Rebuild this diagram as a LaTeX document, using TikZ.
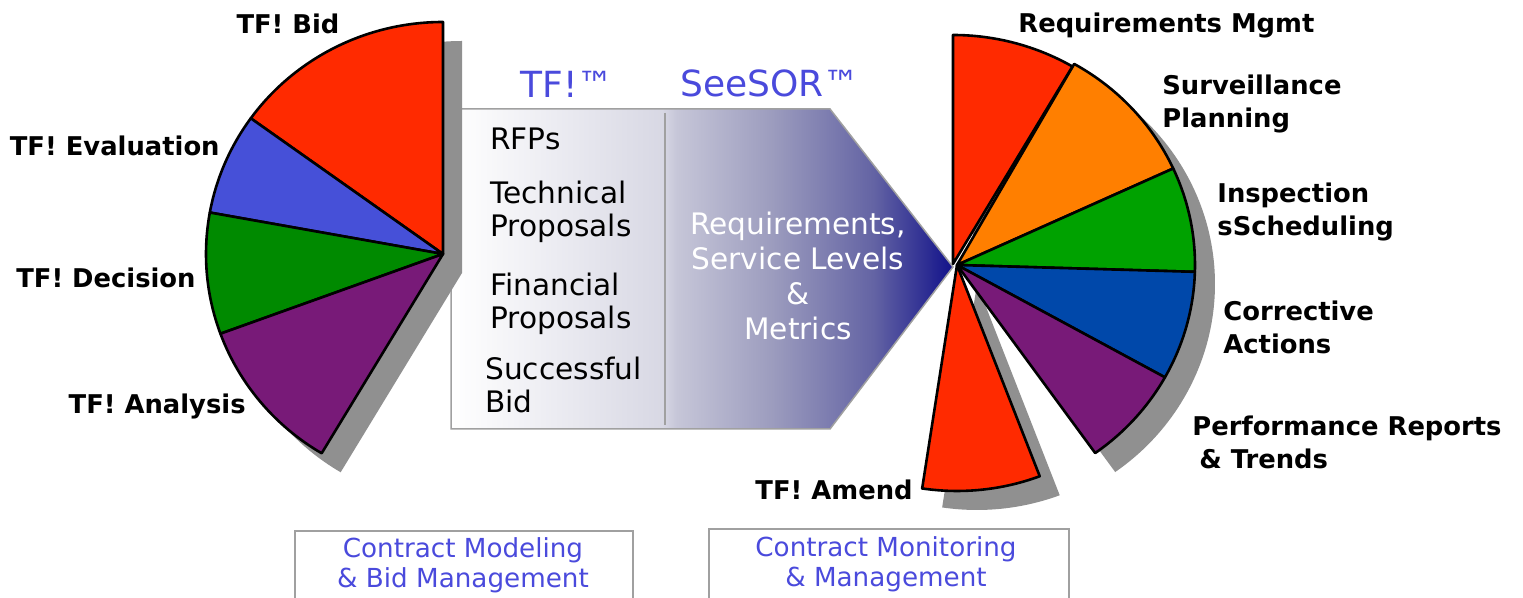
\documentclass[tikz,border=0pt]{standalone}
\usepackage{fontspec}
\setmainfont{DejaVu Sans}
\definecolor{redS}{HTML}{FF2A00}
\definecolor{blueE}{HTML}{4650D8}
\definecolor{greenL}{HTML}{008A00}
\definecolor{purpleS}{HTML}{781A78}
\definecolor{orangeS}{HTML}{FF7F00}
\definecolor{greenR}{HTML}{00A200}
\definecolor{blueR}{HTML}{0048AA}
\definecolor{shadowgray}{HTML}{909090}
\definecolor{titleblue}{HTML}{4A4ADC}
\definecolor{boxgray}{HTML}{A0A0A0}
\definecolor{sha}{HTML}{D8D8E4}
\definecolor{shb}{HTML}{C6C6D8}
\definecolor{shc}{HTML}{9C9CBE}
\definecolor{shd}{HTML}{6464A4}
\definecolor{she}{HTML}{12128A}
\pgfdeclarehorizontalshading{arrowshade}{100bp}{color(0bp)=(white); color(25bp)=(white); color(46bp)=(sha); color(47.5bp)=(shb); color(57bp)=(shc); color(67bp)=(shd); color(75bp)=(she); color(100bp)=(she)}
\tikzset{
  pieslice/.style n args={6}{insert path={(#1,#2) -- +(#3:#5 and #6) arc[start angle=#3, end angle=#4, x radius=#5, y radius=#6] -- cycle}},
  slice/.style={draw=black, line width=1.3pt, line join=round},
  lab/.style={font=\fontsize{12.9}{16.5}\selectfont\bfseries, inner sep=0pt, align=left},
  ttl/.style={font=\fontsize{18}{22}\selectfont, text=titleblue, inner sep=0pt},
  item/.style={font=\fontsize{14.8}{16.75}\selectfont, inner sep=0pt, align=left},
  wtxt/.style={font=\fontsize{14.8}{17.5}\selectfont, text=white, inner sep=0pt, align=center},
  btxt/.style={font=\fontsize{13.1}{15.2}\selectfont, text=titleblue, inner sep=0pt, align=center},
  framebox/.style={draw=boxgray, line width=0.8pt}
}
\begin{document}
\begin{tikzpicture}[x=0.5pt,y=0.5pt]
\useasboundingbox (0,0) rectangle (1523,-598);
\clip (0,0) rectangle (1523,-598);
% central arrow
\shadedraw[shading=arrowshade, draw=boxgray, line width=0.75pt] (451,-109) -- (830,-109) -- (953,-267) -- (830,-429) -- (451,-429) -- cycle;
\draw[boxgray, line width=0.75pt] (665,-113) -- (665,-425);
% left pie
\fill[shadowgray, pieslice={462}{-273}{90}{239.2}{237}{232}];
\path[slice, fill=redS, pieslice={443}{-254}{90}{144.2}{237}{232}];
\path[slice, fill=blueE, pieslice={443}{-254}{144.2}{169.7}{237}{232}];
\path[slice, fill=greenL, pieslice={443}{-254}{169.7}{200.1}{237}{232}];
\path[slice, fill=purpleS, pieslice={443}{-254}{200.1}{239.2}{237}{232}];
% right pie shadow
\begin{scope}[shift={(20,-19)}]
\fill[shadowgray, pieslice={953}{-264}{59.6}{90}{236}{229}];
\fill[shadowgray, pieslice={957}{-265}{-54.5}{60.5}{238}{231}];
\fill[shadowgray, pieslice={957}{-265}{-98.6}{-69.2}{233}{226}];
\end{scope}
% right pie
\path[slice, fill=orangeS, pieslice={957}{-265}{24.7}{60.5}{238}{231}];
\path[slice, fill=redS, pieslice={953}{-264}{59.6}{90}{236}{229}];
\path[slice, fill=greenR, pieslice={957}{-265}{-1.7}{24.7}{238}{231}];
\path[slice, fill=blueR, pieslice={957}{-265}{-29.1}{-1.7}{238}{231}];
\path[slice, fill=purpleS, pieslice={957}{-265}{-54.5}{-29.1}{238}{231}];
\path[slice, fill=redS, pieslice={957}{-265}{-98.6}{-69.2}{233}{226}];
% labels left
\node[lab, anchor=base] (bid) at (288,-34) {TF! Bid};
\node[lab, anchor=base east] (eval) at (220,-156) {TF! Evaluation};
\node[lab, anchor=base east] (dec) at (196,-288) {TF! Decision};
\node[lab, anchor=base east] (ana) at (246,-414) {TF! Analysis};
% labels right (base = last line)
\node[lab, anchor=base west] (req) at (1018,-33) {Requirements Mgmt};
\node[lab, anchor=base west] (surv) at (1162,-128) {Surveillance\\Planning};
\node[lab, anchor=base west] (insp) at (1217,-236) {Inspection\\sScheduling};
\node[lab, anchor=base west] (corr) at (1223,-354) {Corrective\\Actions};
\node[lab, anchor=base west] (perf) at (1192,-469) {Performance Reports\\\hspace*{3.5pt}\& Trends};
\node[lab, anchor=base east] (amend) at (913,-500) {TF! Amend};
% titles
\node[ttl, anchor=base west] (tf) at (520,-98) {TF!™};
\node[ttl, anchor=base west] (see) at (680,-97) {SeeSOR™};
% items
\node[item, anchor=base west] (rfp) at (490,-150) {RFPs};
\node[item, anchor=base west] (tech) at (490,-237) {Technical\\Proposals};
\node[item, anchor=base west] (fin) at (490,-329) {Financial\\Proposals};
\node[item, anchor=base west] (succ) at (485,-413) {Successful\\Bid};
\node[wtxt, anchor=base] (reqs) at (798,-340) {Requirements,\\Service Levels\\\&\\Metrics};
% bottom boxes
\draw[framebox] (295,-620) -- (295,-531) -- (633,-531) -- (633,-620);
\draw[framebox] (709,-620) -- (709,-529) -- (1069,-529) -- (1069,-620);
\node[btxt, anchor=base] (cm) at (463,-588) {Contract Modeling\\\& Bid Management};
\node[btxt, anchor=base] (cmm) at (886,-587) {Contract Monitoring\\\& Management};
\end{tikzpicture}
\end{document}
